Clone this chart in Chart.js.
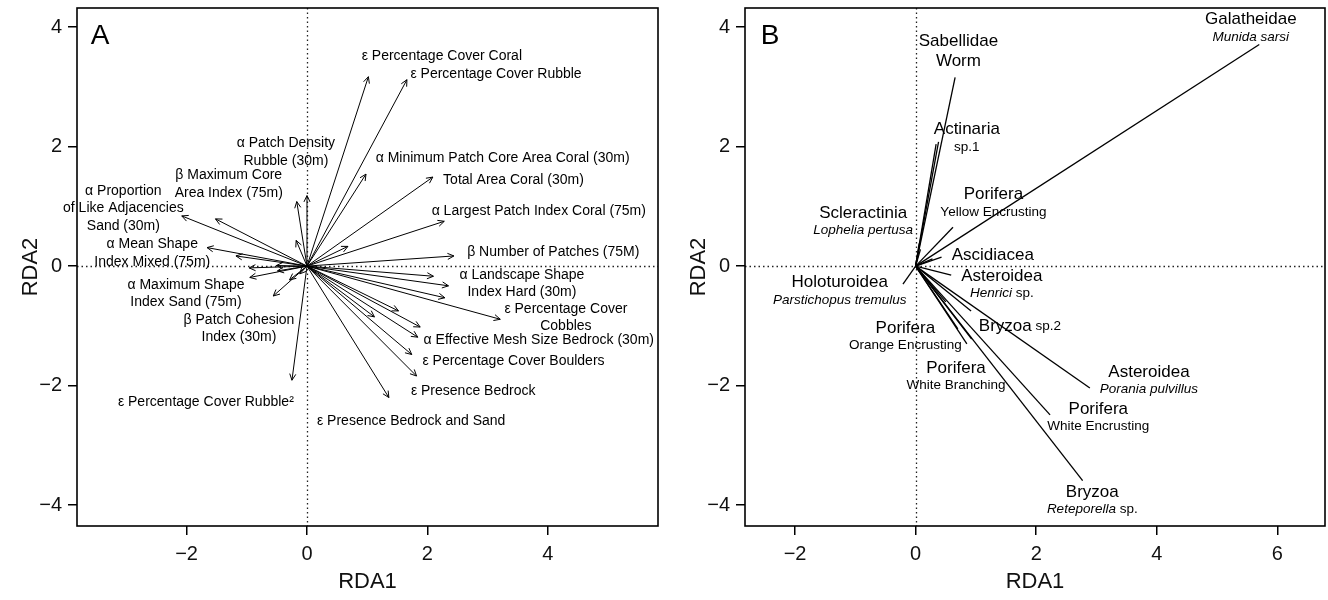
<!DOCTYPE html>
<html>
<head>
<meta charset="utf-8">
<script src="https://cdn.jsdelivr.net/npm/chart.js@4.4.0/dist/chart.umd.min.js"></script>
<style>
  html, body { margin: 0; padding: 0; background: #fff; }
  #chartA { position: absolute; left: 0; top: 0; }
  #chartB { position: absolute; left: 668px; top: 0; }
</style>
</head>
<body>
<canvas id="chartA" width="668" height="600"></canvas>
<canvas id="chartB" width="660" height="600"></canvas>
<script>
const FONT = '"Liberation Sans", Arial, Helvetica, sans-serif';

// panel A: environmental vectors (arrow tips on RDA1 / RDA2)
const envX = [1.02, 1.66, 0.98, 2.09, 2.28, 0.0, -0.17, -0.18, 0.68, -2.08, -1.52, -1.66, -1.18, -0.96,
  -0.95, -0.56, -0.25, 2.44, 2.10, 2.35, 2.29, 3.21, 1.52, 1.12, 1.88, 1.84, 1.74, 1.82, 1.36,
  -0.51, -0.49, -0.29, -0.12];
const envY = [3.17, 3.12, 1.54, 1.49, 0.75, 1.18, 1.08, 0.43, 0.33, 0.84, 0.79, 0.31, 0.17, -0.03,
  -0.19, -0.50, -1.91, 0.17, -0.17, -0.33, -0.53, -0.89, -0.75, -0.85, -1.02, -1.19, -1.48, -1.84, -2.20,
  0.01, -0.08, -0.23, -0.13];

const envLabels = [
  'ε Percentage Cover Coral', 'ε Percentage Cover Rubble', 'α Patch Density\nRubble (30m)',
  'α Minimum Patch Core Area Coral (30m)', 'β Maximum Core\nArea Index (75m)', 'Total Area Coral (30m)',
  'α Proportion\nof Like Adjacencies\nSand (30m)', 'α Largest Patch Index Coral (75m)',
  'α Mean Shape\nIndex Mixed (75m)', 'β Number of Patches (75M)', 'α Landscape Shape\nIndex Hard (30m)',
  'α Maximum Shape\nIndex Sand (75m)', 'ε Percentage Cover\nCobbles', 'β Patch Cohesion\nIndex (30m)',
  'α Effective Mesh Size Bedrock (30m)', 'ε Percentage Cover Boulders', 'ε Presence Bedrock',
  'ε Percentage Cover Rubble²', 'ε Presence Bedrock and Sand'
];
const envLabelX = [2.24, 3.14, -0.35, 3.25, -1.30, 3.43, -3.05, 3.85, -2.57, 4.09, 3.57, -2.01, 4.30, -1.13, 3.85, 3.43, 2.76, -1.68, 1.73];
const envLabelY = [3.52, 3.22, 1.91, 1.81, 1.37, 1.44, 0.97, 0.92, 0.22, 0.23, -0.29, -0.46, -0.86, -1.05, -1.24, -1.59, -2.09, -2.27, -2.59];

// panel B: species scores
const sppX = [5.70, 0.655, 0.38, 0.34, 0.62, 0.06, 0.08, 0.28, 0.43, 0.59, -0.21, 0.92, 0.85, 0.93, 0.50, 0.70, 2.89, 2.23, 2.77];
const sppY = [3.71, 3.16, 2.08, 2.04, 0.65, 0.38, 0.28, 0.12, 0.15, -0.15, -0.30, -0.75, -1.30, -1.22, -0.60, -1.05, -2.04, -2.49, -3.59];

const sppNames = ['Galatheidae', 'Sabellidae\nWorm', 'Actinaria', 'Porifera', 'Scleractinia', 'Ascidiacea',
  'Asteroidea', 'Holoturoidea', 'Bryzoa', 'Porifera', 'Porifera', 'Asteroidea', 'Porifera', 'Bryzoa'];
// *...* = italic, leading space = same line as the name
const sppNotes = ['*Munida sarsi*', '', 'sp.1', 'Yellow Encrusting', '*Lophelia pertusa*', '',
  '*Henrici* sp.', '*Parstichopus tremulus*', ' sp.2', 'Orange Encrusting', 'White Branching',
  '*Porania pulvillus*', 'White Encrusting', '*Reteporella* sp.'];
const sppLabelX = [5.56, 0.71, 0.85, 1.29, -0.87, 1.28, 1.43, -1.26, 1.73, -0.17, 0.67, 3.87, 3.03, 2.93];
const sppLabelY = [3.98, 3.60, 2.14, 1.05, 0.74, 0.18, -0.31, -0.42, -1.01, -1.18, -1.85, -1.92, -2.54, -3.93];

const ticksXA = [-2, 0, 2, 4];
const ticksXB = [-2, 0, 2, 4, 6];
const ticksY = [-4, -2, 0, 2, 4];

function font(size, italic) {
  return (italic ? 'italic ' : '') + size + 'px ' + FONT;
}

// draw one line made of [text, size, italic] pieces, centred on cx
function drawPieces(ctx, pieces, cx, cy) {
  let w = 0;
  pieces.forEach(p => { ctx.font = font(p[1], p[2]); w += ctx.measureText(p[0]).width; });
  let x = cx - w / 2;
  pieces.forEach(p => {
    ctx.font = font(p[1], p[2]);
    ctx.fillText(p[0], x, cy);
    x += ctx.measureText(p[0]).width;
  });
}

function parseItalic(str, size) {
  return str.split('*').map((s, i) => [s, size, i % 2 === 1]).filter(p => p[0].length);
}

const biplot = {
  id: 'biplot',
  beforeDatasetsDraw(chart) {
    const { ctx, chartArea: a, scales: { x, y } } = chart;
    const x0 = Math.round(x.getPixelForValue(0)) + 0.5;
    const y0 = Math.round(y.getPixelForValue(0)) + 0.5;
    ctx.save();
    ctx.strokeStyle = '#222';
    ctx.lineWidth = 1.3;
    ctx.setLineDash([1.5, 3]);
    ctx.beginPath();
    ctx.moveTo(x0, a.top); ctx.lineTo(x0, a.bottom);
    ctx.moveTo(a.left, y0); ctx.lineTo(a.right, y0);
    ctx.stroke();
    ctx.restore();
  },
  afterDatasetsDraw(chart, args, opts) {
    const { ctx, scales: { x, y } } = chart;
    ctx.save();
    ctx.strokeStyle = '#000';
    ctx.fillStyle = '#000';
    ctx.lineWidth = 1;
    if (opts.arrows) {
      chart.data.datasets.forEach((ds, i) => {
        const pts = chart.getDatasetMeta(i).data;
        const p0 = pts[0], p1 = pts[1];
        const ang = Math.atan2(p1.y - p0.y, p1.x - p0.x);
        ctx.beginPath();
        ctx.moveTo(p1.x - 7 * Math.cos(ang - 0.45), p1.y - 7 * Math.sin(ang - 0.45));
        ctx.lineTo(p1.x, p1.y);
        ctx.lineTo(p1.x - 7 * Math.cos(ang + 0.45), p1.y - 7 * Math.sin(ang + 0.45));
        ctx.stroke();
      });
    }
    ctx.textBaseline = 'middle';
    if (opts.panel === 'A') {
      envLabels.forEach((t, i) => {
        const lines = t.split('\n');
        const cx = x.getPixelForValue(envLabelX[i]);
        const cy = y.getPixelForValue(envLabelY[i]);
        lines.forEach((ln, k) => {
          drawPieces(ctx, [[ln, 14, false]], cx, cy + (k - (lines.length - 1) / 2) * 17.5);
        });
      });
    } else {
      sppNames.forEach((name, i) => {
        const rows = name.split('\n').map(s => [[s, 17, false]]);
        const note = sppNotes[i];
        if (note.startsWith(' ')) {
          rows[rows.length - 1] = rows[rows.length - 1].concat(parseItalic(note, 13.5));
        } else if (note) {
          rows.push(parseItalic(note, 13.5));
        }
        // row offsets: big-big 20px, big-small 17.5px
        const off = [0];
        for (let k = 1; k < rows.length; k++) {
          off.push(off[k - 1] + (rows[k][0][1] === 17 ? 20 : 17.5));
        }
        const mid = off[off.length - 1] / 2;
        const cx = x.getPixelForValue(sppLabelX[i]);
        const cy = y.getPixelForValue(sppLabelY[i]);
        rows.forEach((r, k) => drawPieces(ctx, r, cx, cy + off[k] - mid));
      });
    }
    ctx.restore();
  },
  afterDraw(chart, args, opts) {
    const { ctx, chartArea: a } = chart;
    ctx.save();
    ctx.strokeStyle = '#000';
    ctx.lineWidth = 1.6;
    ctx.strokeRect(a.left, a.top, a.right - a.left, a.bottom - a.top);
    ctx.fillStyle = '#000';
    ctx.font = font(28, false);
    ctx.textAlign = 'center';
    ctx.textBaseline = 'middle';
    ctx.fillText(opts.panel, a.left + opts.letterDx, a.top + 28);
    ctx.restore();
  }
};

function minus(v) {
  return v < 0 ? '\u2212' + Math.abs(v) : String(v);
}

function makeChart(id, xs, ys, xmin, xmax, xticks, panel, arrows, rightPad, letterDx) {
  const datasets = xs.map((v, i) => ({
    data: [{ x: 0, y: 0 }, { x: v, y: ys[i] }],
    showLine: true,
    borderColor: '#000',
    borderWidth: arrows ? 1 : 1.3,
    pointRadius: 0,
    fill: false
  }));
  return new Chart(document.getElementById(id), {
    type: 'scatter',
    data: { datasets },
    options: {
      responsive: false,
      animation: false,
      events: [],
      layout: { padding: { left: 0, right: rightPad, top: 8, bottom: 0 } },
      plugins: {
        legend: { display: false },
        tooltip: { enabled: false },
        biplot: { panel, arrows, letterDx }
      },
      scales: {
        x: {
          type: 'linear', min: xmin, max: xmax,
          afterBuildTicks: s => { s.ticks = xticks.map(v => ({ value: v })); },
          afterFit: s => { s.height = 74; s.paddingLeft = 0; s.paddingRight = 0; },
          grid: { drawOnChartArea: false, drawTicks: true, tickLength: 9, color: '#000', lineWidth: 1.5 },
          border: { display: false },
          ticks: { color: '#111', font: { size: 20, family: FONT }, padding: 7, maxRotation: 0, callback: minus },
          title: { display: true, text: 'RDA1', color: '#111', font: { size: 22, family: FONT }, padding: { top: 0, bottom: 5 } }
        },
        y: {
          type: 'linear', min: -4.35, max: 4.32,
          afterBuildTicks: s => { s.ticks = ticksY.map(v => ({ value: v })); },
          afterFit: s => { s.width = 77; s.paddingTop = 0; s.paddingBottom = 0; },
          grid: { drawOnChartArea: false, drawTicks: true, tickLength: 9, color: '#000', lineWidth: 1.5 },
          border: { display: false },
          ticks: { color: '#111', font: { size: 20, family: FONT }, padding: 6, callback: minus },
          title: { display: true, text: 'RDA2', color: '#111', font: { size: 22, family: FONT }, padding: { top: 18, bottom: 0 } }
        }
      }
    },
    plugins: [biplot]
  });
}

makeChart('chartA', envX, envY, -3.82, 5.83, ticksXA, 'A', true, 10, 23);
makeChart('chartB', sppX, sppY, -2.83, 6.79, ticksXB, 'B', false, 3, 25);
</script>
</body>
</html>
